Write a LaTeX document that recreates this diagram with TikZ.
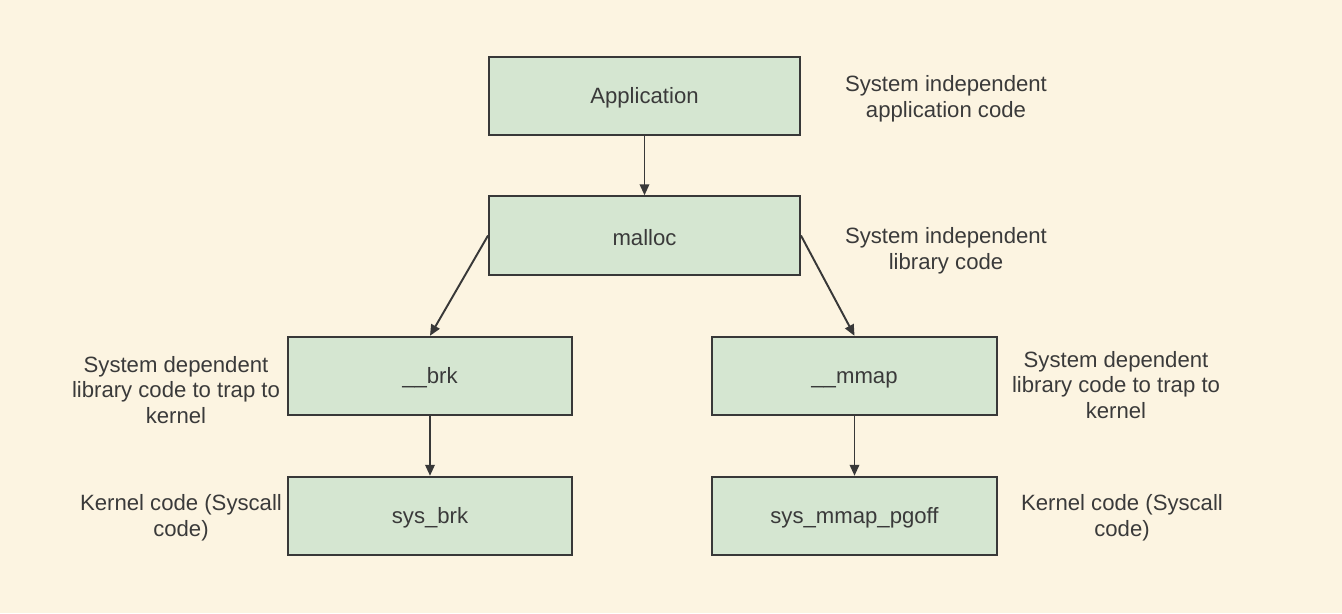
\documentclass[tikz,border=0pt]{standalone}
\usepackage{fontspec}
\setmainfont{Liberation Sans}
\usetikzlibrary{arrows.meta, positioning}

\definecolor{paper}{HTML}{FCF4E1}
\definecolor{boxfill}{HTML}{D5E6D1}
\definecolor{boxline}{HTML}{383838}
\definecolor{inktext}{HTML}{3A3A3A}

\begin{document}
\begin{tikzpicture}[
    >={Triangle[length=2.2mm, width=1.9mm]},
    font=\fontsize{12.6}{14.7}\selectfont,
    layer/.style={rectangle, draw=boxline, fill=boxfill, line width=1.1pt, minimum width=6.22cm, minimum height=1.57cm, inner sep=0, text=inktext, text height=1.1em},
    lowlayer/.style={layer, minimum width=5.69cm},
    note/.style={align=center, text=inktext},
    call/.style={->, line width=1.1pt, draw=boxline}
]

    % =========================================================
    % PAGE
    % =========================================================
    \fill[paper] (0, 0) rectangle (26.84, -12.26);
    \useasboundingbox (0, 0) rectangle (26.84, -12.26);

    % Layers
    \node[layer] (app) at (12.89, -1.92) {Application};
    \node[layer] (malloc) at (12.89, -4.71) {malloc};
    \node[lowlayer] (brk) at (8.60, -7.52) {\_\_brk};
    \node[lowlayer] (mmap) at (17.09, -7.52) {\_\_mmap};
    \node[lowlayer] (sysbrk) at (8.60, -10.32) {sys\_brk};
    \node[lowlayer] (sysmmap) at (17.09, -10.32) {sys\_mmap\_pgoff};

    % Calls
    \draw[call] (app) -- (malloc);
    \draw[call] (malloc.west) -- (brk.north);
    \draw[call] (malloc.east) -- (mmap.north);
    \draw[call] (brk) -- (sysbrk);
    \draw[call] (mmap) -- (sysmmap);

    % =========================================================
    % NOTES
    % =========================================================
    \node[note] (appnote) at (18.92, -1.98) {System independent\\application code};
    \node[note] (libnote) at (18.92, -5.02) {System independent\\library code};
    \node[note] (brknote) at (3.52, -7.80) {System dependent\\library code to trap to\\kernel};
    \node[note] (mmapnote) at (22.32, -7.70) {System dependent\\library code to trap to\\kernel};
    \node[note] (sysbrknote) at (3.62, -10.36) {Kernel code (Syscall\\code)};
    \node[note] (sysmmapnote) at (22.44, -10.36) {Kernel code (Syscall\\code)};

\end{tikzpicture}
\end{document}
